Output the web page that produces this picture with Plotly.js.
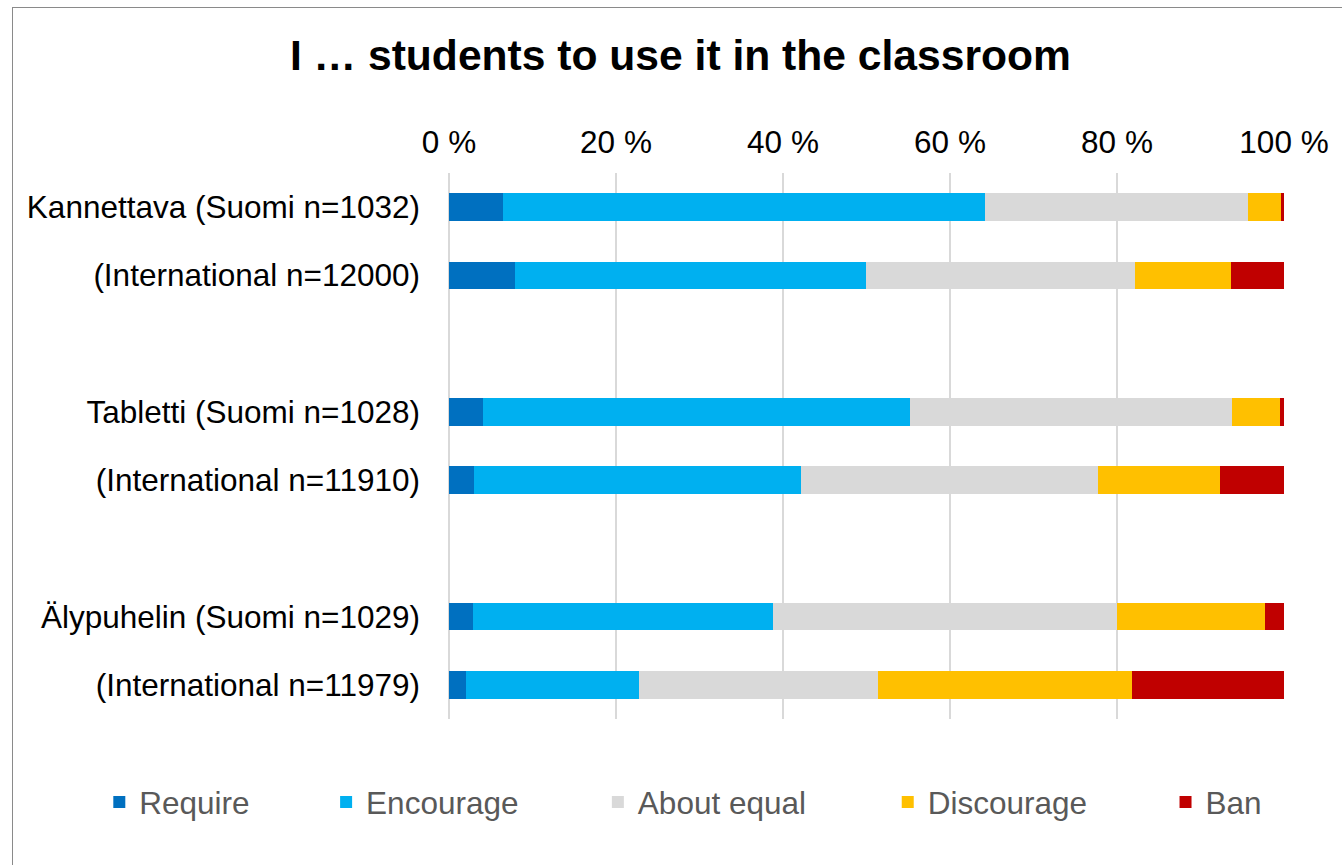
<!DOCTYPE html>
<html>
<head>
<meta charset="utf-8">
<script src="https://cdn.plot.ly/plotly-3.0.1.min.js"></script>
<style>
  html, body { margin: 0; padding: 0; background: #fff; overflow: hidden; }
  #chart { width: 1342px; height: 865px; }
  #frame { position: absolute; left: 12px; top: 7px; width: 1400px; height: 900px;
           border: 1.5px solid #8a8a8a; pointer-events: none; box-sizing: border-box; }
</style>
</head>
<body>
<div id="chart"></div>
<div id="frame"></div>
<script>
// ---- data ----
const categories = [
  "Kannettava (Suomi n=1032)",
  "(International n=12000)",
  "Tabletti (Suomi n=1028)",
  "(International n=11910)",
  "Älypuhelin (Suomi n=1029)",
  "(International n=11979)"
];
const seriesNames = ["Require", "Encourage", "About equal", "Discourage", "Ban"];
const require_    = [6.5, 7.9, 4.1, 3.0, 2.9, 2.0];
const encourage   = [57.7, 42.0, 51.1, 39.2, 35.9, 20.8];
const aboutEqual  = [31.5, 32.3, 38.6, 35.5, 41.2, 28.6];
const discourage  = [3.9, 11.4, 5.7, 14.6, 17.7, 30.4];
const ban         = [0.4, 6.4, 0.5, 7.7, 2.3, 18.2];
const xTickVals   = [0, 20, 40, 60, 80, 100];
const xTickText   = ["0 %", "20 %", "40 %", "60 %", "80 %", "100 %"];

// ---- styling ----
const colors = ["#0070C0", "#00B0F0", "#D9D9D9", "#FFC000", "#C00000"];
const seriesValues = [require_, encourage, aboutEqual, discourage, ban];
// category order with blank spacer rows between groups
const categoryOrder = [categories[0], categories[1], " ",
                       categories[2], categories[3], "  ",
                       categories[4], categories[5]];
const legendX = [0.074, 0.243, 0.4455, 0.6615, 0.8685];
const FONT = "Liberation Sans, Arial, sans-serif";

const traces = seriesNames.map((name, i) => ({
  type: "bar",
  orientation: "h",
  name: name,
  y: categories,
  x: seriesValues[i],
  width: 0.4,
  marker: { color: colors[i], line: { width: 0 } },
  legend: i === 0 ? "legend" : "legend" + (i + 1),
  hoverinfo: "x+y+name"
}));

const layout = {
  width: 1342, height: 865,
  paper_bgcolor: "#ffffff", plot_bgcolor: "#ffffff",
  margin: { l: 449, r: 58, t: 173, b: 146, pad: 0 },
  barmode: "stack",
  bargap: 0.6,
  title: {
    text: "<b>I … students to use it in the classroom</b>",
    font: { family: FONT, size: 42.6, color: "#000000" },
    xref: "container", x: 0.507, xanchor: "center",
    yref: "container", y: 1 - 55 / 865, yanchor: "middle"
  },
  xaxis: {
    side: "top",
    range: [0, 100],
    tickvals: xTickVals, ticktext: xTickText,
    showgrid: true, gridcolor: "#D9D9D9", gridwidth: 2,
    zeroline: true, zerolinecolor: "#D9D9D9", zerolinewidth: 2,
    showline: false, ticks: "",
    ticklabelstandoff: 13,
    tickfont: { family: FONT, size: 31.5, color: "#000000" },
    fixedrange: true
  },
  yaxis: {
    type: "category",
    categoryorder: "array", categoryarray: categoryOrder,
    range: [7.5, -0.5],
    showgrid: false, zeroline: false, showline: false, ticks: "",
    ticklabelstandoff: 28,
    tickfont: { family: FONT, size: 31.5, color: "#000000" },
    fixedrange: true
  },
  showlegend: true
};
const legendFont = { family: FONT, size: 31.5, color: "#595959" };
["legend", "legend2", "legend3", "legend4", "legend5"].forEach((key, i) => {
  layout[key] = {
    orientation: "h",
    xref: "container", yref: "container",
    x: legendX[i], xanchor: "left",
    y: 1 - 802 / 865, yanchor: "middle",
    font: legendFont, bgcolor: "rgba(0,0,0,0)", borderwidth: 0
  };
});

Plotly.newPlot("chart", traces, layout, { displayModeBar: false, staticPlot: true });
</script>
</body>
</html>
